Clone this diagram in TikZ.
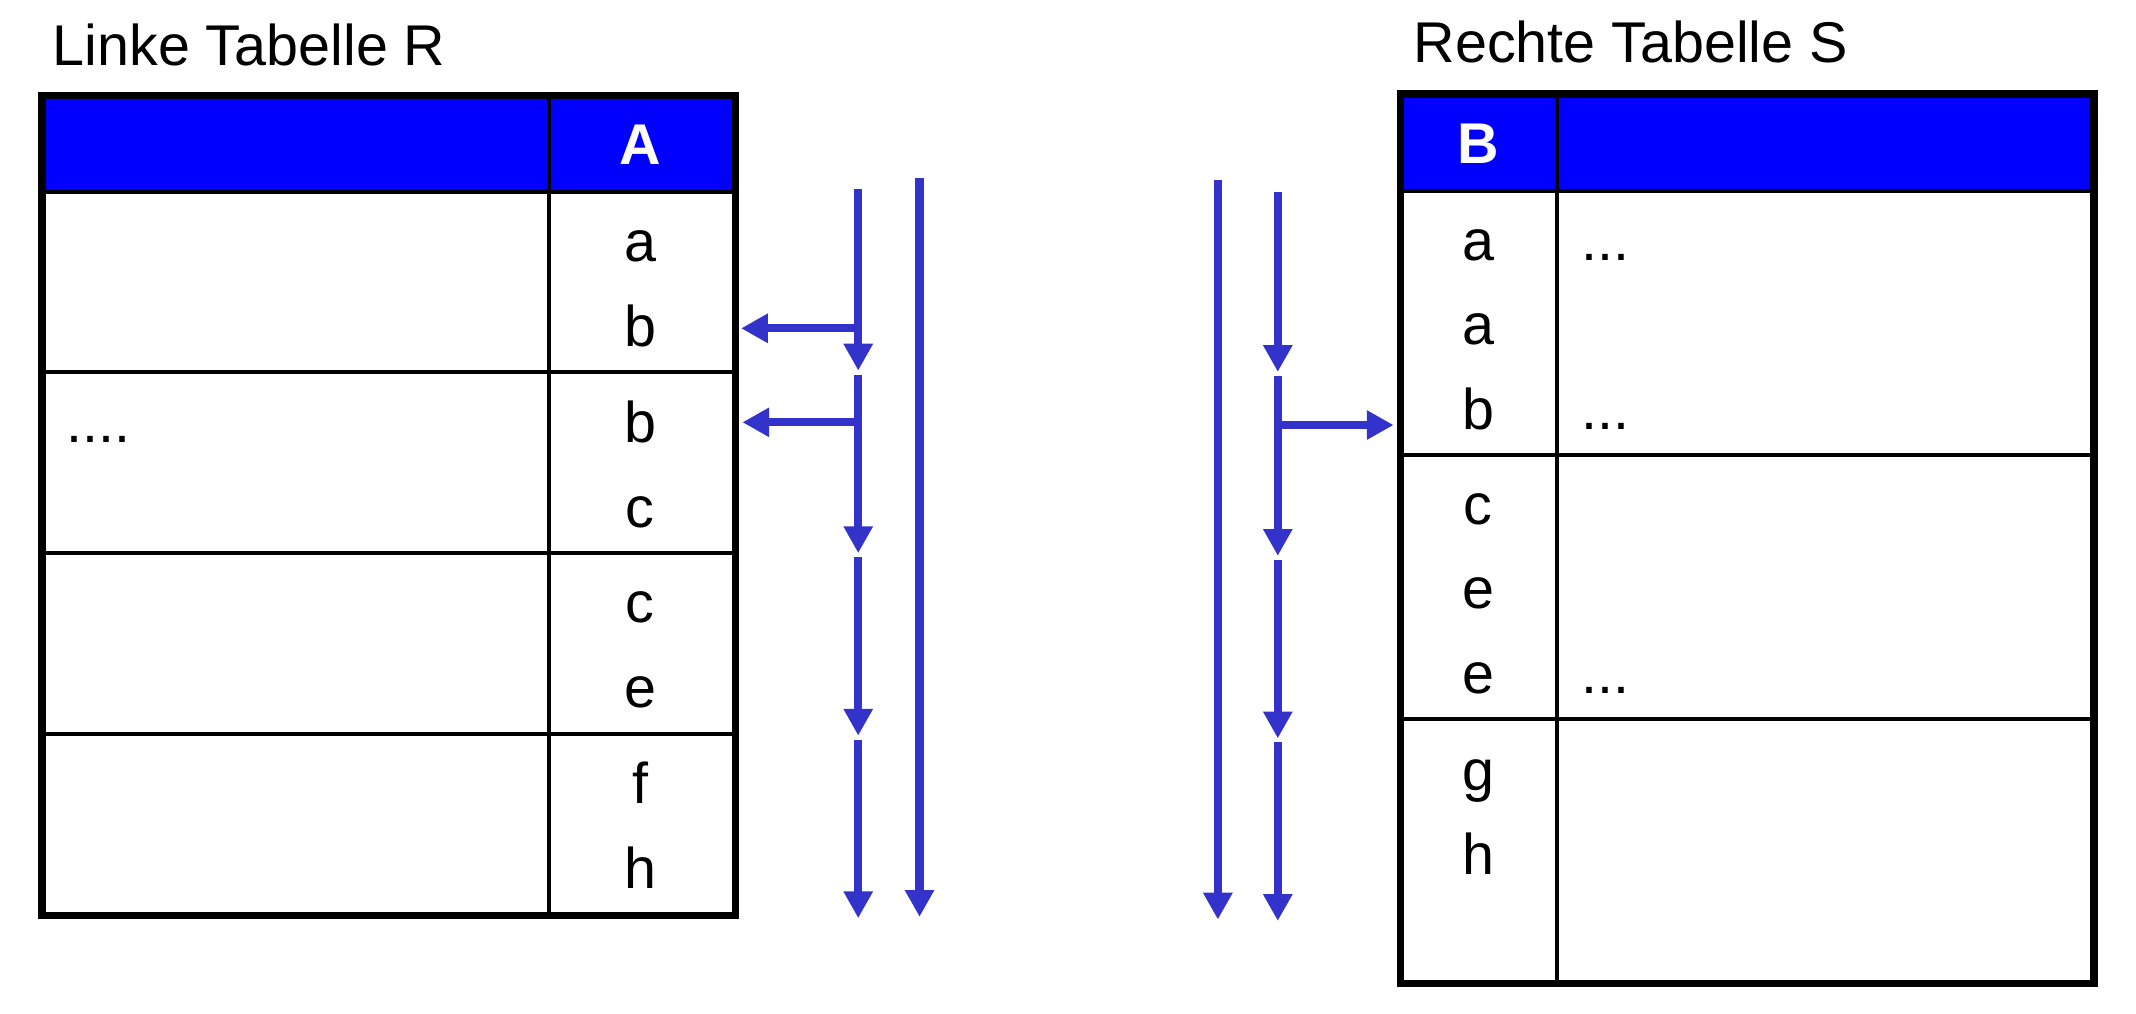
\documentclass[tikz,border=0pt]{standalone}
\usepackage{fontspec}
\setmainfont{Liberation Sans}
\usetikzlibrary{arrows.meta}
\definecolor{headblue}{RGB}{0,0,255}
\definecolor{scanblue}{RGB}{51,51,204}

\begin{document}
\begin{tikzpicture}[x = 1cm, y = -1cm]
	\tikzstyle{TitleStyle}=[anchor = base west, inner sep = 0pt, font = \fontsize{12}{14}\selectfont]
	\tikzstyle{ValueStyle}=[anchor = base, inner sep = 0pt, font = \fontsize{12}{14}\selectfont]
	\tikzstyle{HeadStyle}=[anchor = base, inner sep = 0pt, text = white, font = \fontsize{12}{14}\selectfont\bfseries]
	\tikzstyle{DotsStyle}=[anchor = base west, inner sep = 0pt, font = \fontsize{12}{14}\selectfont]
	\tikzstyle{OuterStyle}=[line width = 1.6pt]
	\tikzstyle{InnerStyle}=[line width = 0.75pt]
	\tikzstyle{ScanStyle}=[draw = scanblue, line width = 1.7pt, -{Triangle[length = 5.6pt, width = 5.8pt]}]
	\useasboundingbox (0,0) rectangle (15.68,7.44);
	% left table R
	\fill[headblue] (0.31,0.70) rectangle (5.40,1.41);
	\draw[InnerStyle] (0.31,1.41) -- (5.40,1.41);
	\draw[InnerStyle] (0.31,2.73) -- (5.40,2.73);
	\draw[InnerStyle] (0.31,4.06) -- (5.40,4.06);
	\draw[InnerStyle] (0.31,5.39) -- (5.40,5.39);
	\draw[InnerStyle] (4.03,0.70) -- (4.03,6.72);
	\draw[OuterStyle] (0.31,0.70) rectangle (5.40,6.72);
	\node[TitleStyle] (titleR) at (0.38,0.48) {Linke Tabelle R};
	\node[HeadStyle] (headA) at (4.70,1.21) {A};
	\node[ValueStyle] (r1) at (4.70,1.92) {a};
	\node[ValueStyle] (r2) at (4.70,2.54) {b};
	\node[ValueStyle] (r3) at (4.70,3.25) {b};
	\node[ValueStyle] (r4) at (4.70,3.87) {c};
	\node[ValueStyle] (r5) at (4.70,4.57) {c};
	\node[ValueStyle] (r6) at (4.70,5.19) {e};
	\node[ValueStyle] (r7) at (4.70,5.90) {f};
	\node[ValueStyle] (r8) at (4.70,6.52) {h};
	\node[DotsStyle] (dotsR) at (0.48,3.25) {....};
	% right table S
	\fill[headblue] (10.28,0.69) rectangle (15.37,1.40);
	\draw[InnerStyle] (10.28,1.40) -- (15.37,1.40);
	\draw[InnerStyle] (10.28,3.34) -- (15.37,3.34);
	\draw[InnerStyle] (10.28,5.28) -- (15.37,5.28);
	\draw[InnerStyle] (11.43,0.69) -- (11.43,7.22);
	\draw[OuterStyle] (10.28,0.69) rectangle (15.37,7.22);
	\node[TitleStyle] (titleS) at (10.37,0.46) {Rechte Tabelle S};
	\node[HeadStyle] (headB) at (10.85,1.20) {B};
	\node[ValueStyle] (s1) at (10.85,1.91) {a};
	\node[ValueStyle] (s2) at (10.85,2.53) {a};
	\node[ValueStyle] (s3) at (10.85,3.15) {b};
	\node[ValueStyle] (s4) at (10.85,3.85) {c};
	\node[ValueStyle] (s5) at (10.85,4.47) {e};
	\node[ValueStyle] (s6) at (10.85,5.09) {e};
	\node[ValueStyle] (s7) at (10.85,5.80) {g};
	\node[ValueStyle] (s8) at (10.85,6.42) {h};
	\node[DotsStyle] (dotsS1) at (11.60,1.91) {...};
	\node[DotsStyle] (dotsS2) at (11.60,3.15) {...};
	\node[DotsStyle] (dotsS3) at (11.60,5.09) {...};
	% scan pointers of R
	\coordinate (pR0) at (6.30,1.39);
	\coordinate (pR1) at (6.30,2.72);
	\coordinate (pR1b) at (6.30,2.75);
	\coordinate (pR2) at (6.30,4.06);
	\coordinate (pR2b) at (6.30,4.09);
	\coordinate (pR3) at (6.30,5.40);
	\coordinate (pR3b) at (6.30,5.43);
	\coordinate (pR4) at (6.30,6.74);
	\coordinate (hitR1) at (6.30,2.41);
	\coordinate (hitR2) at (6.30,3.10);
	\coordinate (endR1) at (5.44,2.41);
	\coordinate (endR2) at (5.45,3.10);
	\coordinate (runR0) at (6.75,1.31);
	\coordinate (runR1) at (6.75,6.73);
	\draw[ScanStyle] (pR0) -- (pR1);
	\draw[ScanStyle] (pR1b) -- (pR2);
	\draw[ScanStyle] (pR2b) -- (pR3);
	\draw[ScanStyle] (pR3b) -- (pR4);
	\draw[ScanStyle] (hitR1) -- (endR1);
	\draw[ScanStyle] (hitR2) -- (endR2);
	\draw[ScanStyle] (runR0) -- (runR1);
	% scan pointers of S
	\coordinate (runS0) at (8.94,1.32);
	\coordinate (runS1) at (8.94,6.75);
	\coordinate (pS0) at (9.38,1.41);
	\coordinate (pS1) at (9.38,2.73);
	\coordinate (pS1b) at (9.38,2.76);
	\coordinate (pS2) at (9.38,4.08);
	\coordinate (pS2b) at (9.38,4.11);
	\coordinate (pS3) at (9.38,5.42);
	\coordinate (pS3b) at (9.38,5.45);
	\coordinate (pS4) at (9.38,6.76);
	\coordinate (hitS1) at (9.38,3.12);
	\coordinate (endS1) at (10.23,3.12);
	\draw[ScanStyle] (runS0) -- (runS1);
	\draw[ScanStyle] (pS0) -- (pS1);
	\draw[ScanStyle] (pS1b) -- (pS2);
	\draw[ScanStyle] (pS2b) -- (pS3);
	\draw[ScanStyle] (pS3b) -- (pS4);
	\draw[ScanStyle] (hitS1) -- (endS1);
\end{tikzpicture}
\end{document}
